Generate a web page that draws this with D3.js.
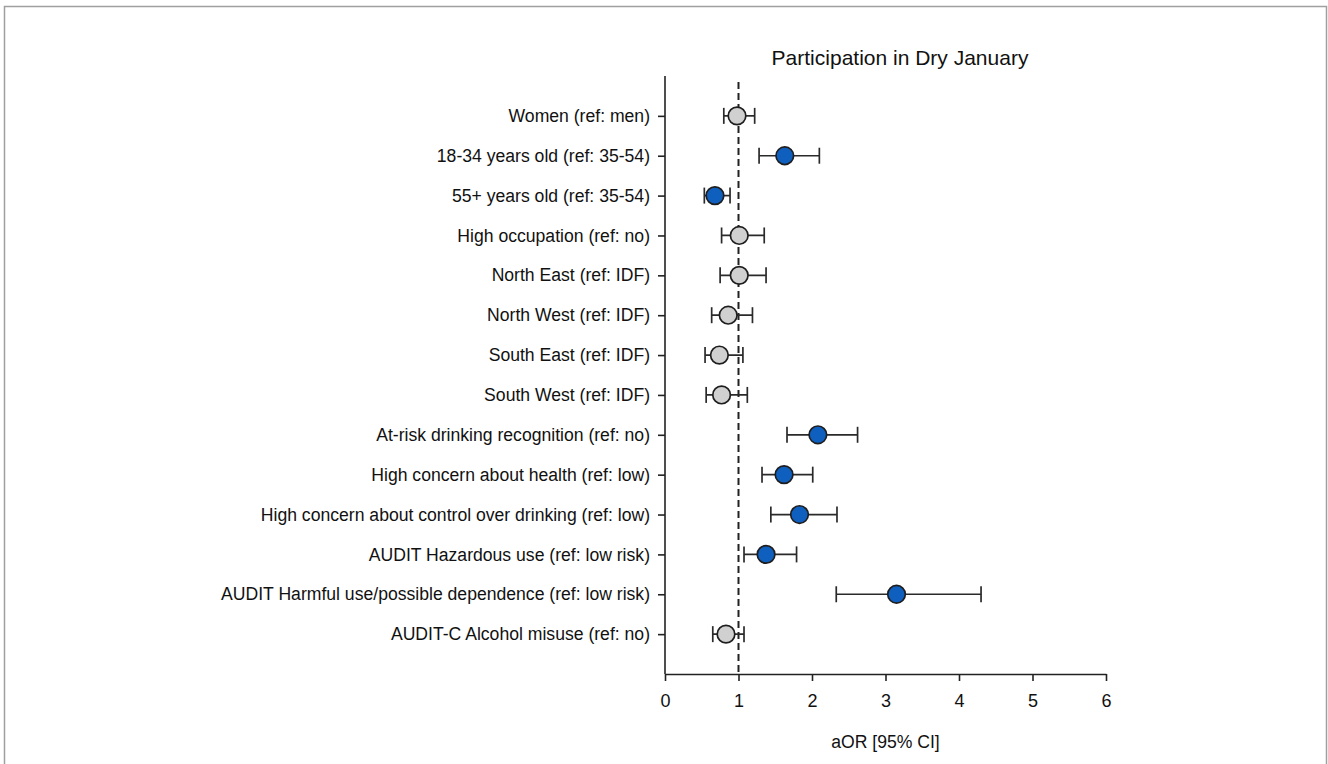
<!DOCTYPE html>
<html>
<head>
<meta charset="utf-8">
<script src="https://cdn.jsdelivr.net/npm/d3@7"></script>
<style>
  html, body { margin: 0; padding: 0; background: #fff; }
  svg { display: block; }
  text { font-family: "Liberation Sans", Arial, sans-serif; fill: #111; }
</style>
</head>
<body>
<svg id="chart"></svg>
<script>
const labels = [
  "Women (ref: men)",
  "18-34 years old (ref: 35-54)",
  "55+ years old (ref: 35-54)",
  "High occupation (ref: no)",
  "North East (ref: IDF)",
  "North West (ref: IDF)",
  "South East (ref: IDF)",
  "South West (ref: IDF)",
  "At-risk drinking recognition (ref: no)",
  "High concern about health (ref: low)",
  "High concern about control over drinking (ref: low)",
  "AUDIT Hazardous use (ref: low risk)",
  "AUDIT Harmful use/possible dependence (ref: low risk)",
  "AUDIT-C Alcohol misuse (ref: no)"
];
const aor   = [0.98, 1.63, 0.68, 1.01, 1.01, 0.86, 0.74, 0.77, 2.08, 1.62, 1.83, 1.375, 3.15, 0.83];
const lower = [0.80, 1.28, 0.535, 0.77, 0.75, 0.635, 0.545, 0.56, 1.66, 1.32, 1.44, 1.075, 2.33, 0.65];
const upper = [1.22, 2.10, 0.885, 1.35, 1.375, 1.19, 1.06, 1.12, 2.62, 2.01, 2.34, 1.79, 4.30, 1.075];
const significant = [false, true, true, false, false, false, false, false, true, true, true, true, true, false];
const xTicks = [0, 1, 2, 3, 4, 5, 6];

const data = labels.map((label, i) => ({
  label, aor: aor[i], lo: lower[i], hi: upper[i], sig: significant[i]
}));

const width = 1328, height = 764;
const svg = d3.select("#chart").attr("width", width).attr("height", height);

// outer frame
svg.append("path")
  .attr("d", `M4.5,${height} V6.5 H1326.5 V${height}`)
  .attr("fill", "none")
  .attr("stroke", "#a0a0a0")
  .attr("stroke-width", 1.5);

const plotLeft = 665, plotRight = 1106, plotTop = 76, plotBottom = 674;

const x = d3.scaleLinear().domain([0, 6]).range([plotLeft, plotRight]);
const y = d3.scalePoint().domain(labels).range([plotTop, plotBottom]).padding(1);

// title
svg.append("text")
  .attr("x", 900).attr("y", 65)
  .attr("text-anchor", "middle")
  .style("font-size", "21px")
  .text("Participation in Dry January");

// reference line at 1
svg.append("line")
  .attr("x1", x(1)).attr("x2", x(1))
  .attr("y1", plotTop + 6).attr("y2", plotBottom)
  .attr("stroke", "#222")
  .attr("stroke-width", 2)
  .attr("stroke-dasharray", "7,4");

// y axis
const yAxis = svg.append("g")
  .attr("transform", `translate(${plotLeft},0)`)
  .call(d3.axisLeft(y).tickSize(7).tickPadding(8).tickSizeOuter(0));
yAxis.select(".domain").attr("stroke", "#222").attr("stroke-width", 1.6)
  .attr("d", `M0,${plotTop}V${plotBottom}`);
yAxis.selectAll(".tick line").attr("stroke", "#222").attr("stroke-width", 1.6);
yAxis.selectAll(".tick text").style("font-size", "17.6px").attr("fill", "#111");

// x axis
const xAxis = svg.append("g")
  .attr("transform", `translate(0,${plotBottom})`)
  .call(d3.axisBottom(x).tickValues(xTicks).tickFormat(d3.format("d")).tickSize(7).tickPadding(13).tickSizeOuter(0));
xAxis.select(".domain").attr("stroke", "#222").attr("stroke-width", 1.6);
xAxis.selectAll(".tick line").attr("stroke", "#222").attr("stroke-width", 1.6);
xAxis.selectAll(".tick text").style("font-size", "18px").attr("fill", "#111");

svg.append("text")
  .attr("x", x(3)).attr("y", 748)
  .attr("text-anchor", "middle")
  .style("font-size", "17.6px")
  .text("aOR [95% CI]");

// error bars
const bars = svg.append("g").selectAll("g")
  .data(data)
  .join("g")
  .attr("stroke", "#2a2a2a")
  .attr("stroke-width", 1.7);

bars.append("line")
  .attr("x1", d => x(d.lo)).attr("x2", d => x(d.hi))
  .attr("y1", d => y(d.label)).attr("y2", d => y(d.label));
bars.append("line")
  .attr("x1", d => x(d.lo)).attr("x2", d => x(d.lo))
  .attr("y1", d => y(d.label) - 8).attr("y2", d => y(d.label) + 8);
bars.append("line")
  .attr("x1", d => x(d.hi)).attr("x2", d => x(d.hi))
  .attr("y1", d => y(d.label) - 8).attr("y2", d => y(d.label) + 8);

// points
svg.append("g").selectAll("circle")
  .data(data)
  .join("circle")
  .attr("cx", d => x(d.aor))
  .attr("cy", d => y(d.label))
  .attr("r", 8.8)
  .attr("fill", d => d.sig ? "#0f5fbf" : "#d0d0d0")
  .attr("stroke", "#1e1e1e")
  .attr("stroke-width", 1.7);
</script>
</body>
</html>
